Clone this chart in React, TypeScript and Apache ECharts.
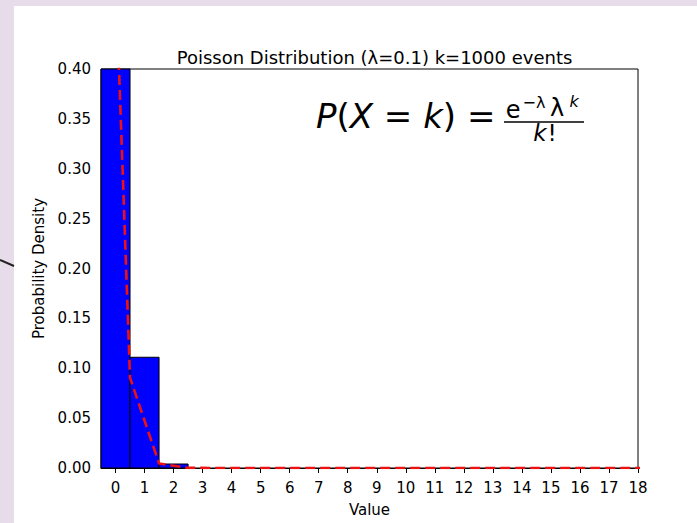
import React, { useEffect, useRef } from "react";
import * as echarts from "echarts";

// Histogram bins (left edge, right edge) and observed densities
const binLeft = [-0.5, 0.5, 1.5];
const binRight = [0.5, 1.5, 2.5];
const histValues = [0.885, 0.111, 0.004];

// Theoretical PMF line (plotted at bin left edges)
const pmfX = [-0.5, 0.5, 1.5, 2.5, 3.5, 4.5, 5.5, 6.5, 7.5, 8.5, 9.5, 10.5, 11.5, 12.5, 13.5, 14.5, 15.5, 16.5, 17.5, 18.5];
const pmfValues = [0.905, 0.0905, 0.0045, 0.00015, 0.000004, 0, 0, 0, 0, 0, 0, 0, 0, 0, 0, 0, 0, 0, 0, 0];

const xTicks = [0, 1, 2, 3, 4, 5, 6, 7, 8, 9, 10, 11, 12, 13, 14, 15, 16, 17, 18];
const titleText = "Poisson Distribution (\u03bb=0.1) k=1000 events";
const xName = "Value";
const yName = "Probability Density";

const FONT = "DejaVu Sans";

export default function App() {
  const ref = useRef<HTMLDivElement>(null);
  useEffect(() => {
    document.body.style.margin = "0";
    const chart = echarts.init(ref.current!, null, { renderer: "svg" });
    const histData = histValues.map((v, i) => [binLeft[i], binRight[i], v]);
    const lineData = pmfX.map((x, i) => [x, pmfValues[i]]);
    const txt = (s: string, x: number, y: number, size: number, italic = false) => ({
      type: "text",
      x,
      y,
      z: 100,
      style: {
        text: s,
        fontFamily: FONT,
        fontSize: size,
        fontStyle: italic ? "italic" : "normal",
        fill: "#000",
        align: "center",
        verticalAlign: "middle",
      },
    });
    chart.setOption({
      animation: false,
      backgroundColor: "#ffffff",
      textStyle: { fontFamily: FONT },
      title: {
        text: titleText,
        left: 369.5,
        top: 43,
        textAlign: "center",
        textStyle: { fontFamily: FONT, fontSize: 18, fontWeight: "normal", color: "#000" },
      },
      grid: {
        left: 101,
        right: 59,
        top: 69,
        bottom: 55,
        show: true,
        borderColor: "#000",
        borderWidth: 1,
        backgroundColor: "#fff",
      },
      xAxis: {
        type: "value",
        min: -0.5,
        max: 18,
        name: xName,
        nameLocation: "middle",
        nameGap: 34,
        nameTextStyle: { fontFamily: FONT, fontSize: 15, color: "#000" },
        splitLine: { show: false },
        axisLine: { show: true, lineStyle: { color: "#000", width: 1 } },
        axisTick: { show: true, length: 5, customValues: xTicks, lineStyle: { color: "#000" } },
        axisLabel: { customValues: xTicks, margin: 12, fontFamily: FONT, fontSize: 15, color: "#000" },
      },
      yAxis: {
        type: "value",
        min: 0,
        max: 0.4,
        interval: 0.05,
        name: yName,
        nameLocation: "middle",
        nameGap: 49,
        nameTextStyle: { fontFamily: FONT, fontSize: 15, color: "#000" },
        splitLine: { show: false },
        axisLine: { show: true, lineStyle: { color: "#000", width: 1 } },
        axisTick: { show: true, length: 5, lineStyle: { color: "#000" } },
        axisLabel: {
          margin: 10,
          fontFamily: FONT,
          fontSize: 15,
          color: "#000",
          formatter: (v: number) => v.toFixed(2),
        },
      },
      series: [
        {
          type: "custom",
          data: histData,
          encode: { x: [0, 1], y: 2 },
          renderItem: (params: any, api: any) => {
            const p0 = api.coord([api.value(0), 0]);
            const p1 = api.coord([api.value(1), api.value(2)]);
            const shape = echarts.graphic.clipRectByRect(
              { x: p0[0], y: p1[1], width: p1[0] - p0[0], height: p0[1] - p1[1] },
              {
                x: params.coordSys.x,
                y: params.coordSys.y,
                width: params.coordSys.width,
                height: params.coordSys.height,
              }
            );
            if (!shape) return null;
            return {
              type: "rect",
              shape,
              style: { fill: "#0000ff", stroke: "#000", lineWidth: 1 },
            };
          },
          z: 2,
        },
        {
          type: "line",
          data: lineData,
          symbol: "none",
          clip: true,
          lineStyle: { color: "#ee1111", width: 2.6, type: [10, 5] },
          z: 3,
        },
      ],
      graphic: [
        { type: "rect", shape: { x: 0, y: 0, width: 697, height: 6 }, style: { fill: "#e6dcea" }, z: 50 },
        { type: "rect", shape: { x: 0, y: 0, width: 14, height: 523 }, style: { fill: "#e6dcea" }, z: 50 },
        { type: "line", shape: { x1: 0, y1: 260, x2: 14, y2: 266 }, style: { stroke: "#222", lineWidth: 2 }, z: 51 },
        {
          type: "text",
          x: 316,
          y: 116,
          z: 100,
          style: {
            text: "{i|P}({i|X} = {i|k}) =",
            fontFamily: FONT,
            fontSize: 34,
            fill: "#000",
            align: "left",
            verticalAlign: "middle",
            rich: {
              i: { fontFamily: FONT, fontSize: 34, fontStyle: "italic", fill: "#000" },
            },
          },
        },
        {
          type: "line",
          z: 100,
          shape: { x1: 504, y1: 122, x2: 584, y2: 122 },
          style: { stroke: "#000", lineWidth: 1.6 },
        },
        txt("e", 513, 110, 24),
        txt("\u2212\u03bb", 534, 102, 16),
        txt("\u03bb", 557, 108, 24),
        txt("k", 574, 101, 16, true),
        txt("k", 540, 133, 23, true),
        txt("!", 552, 133, 23),
      ],
    });
    return () => chart.dispose();
  }, []);
  return <div ref={ref} style={{ width: 697, height: 523 }} />;
}
